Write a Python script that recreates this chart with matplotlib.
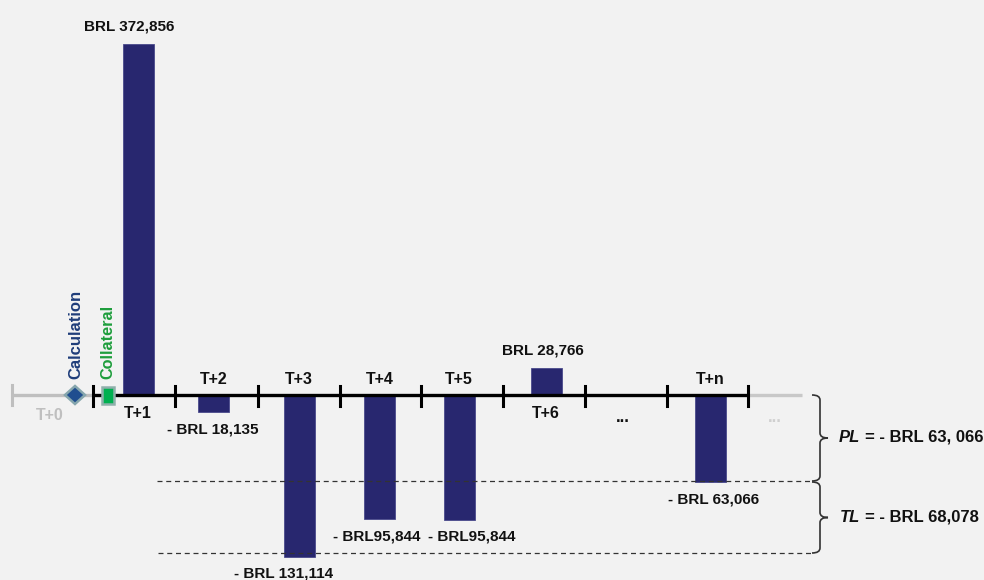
import matplotlib
matplotlib.use("Agg")
import matplotlib.pyplot as plt
from matplotlib.path import Path
from matplotlib.patches import PathPatch, Rectangle, Polygon

plt.rcParams['font.family'] = ['Liberation Sans', 'DejaVu Sans']
plt.rcParams['font.weight'] = 'bold'

# data
periods = ["T+1", "T+2", "T+3", "T+4", "T+5", "T+6", "T+n"]
slots = [0, 1, 2, 3, 4, 5, 7]          # which gap of the timeline each period sits in
value_labels = ["BRL 372,856", "- BRL 18,135", "- BRL 131,114", "- BRL95,844",
                "- BRL95,844", "BRL 28,766", "- BRL 63,066"]
# bar lengths as drawn (thousand BRL, the drawing is not to scale for the negatives)
drawn_k = [372.9, -18.1, -172.0, -131.7, -132.5, 29.0, -92.4]
pl_text = "= - BRL 63, 066"
tl_text = "= - BRL 68,078"

# layout (pixels)
ticks_px = [93, 175, 258, 340, 421, 503, 585, 667, 748]
bar_shift = [4, -3, 0, -1, -3, 2, 3]
base_px = 395
k_per_px = 1.062
label_dx = [-9, -1, -15, -3, 13, -3, 3]

navy = '#28276f'
bg = '#f2f2f2'

fig = plt.figure(figsize=(9.84, 5.8), dpi=100, facecolor=bg)
ax = fig.add_axes([0, 0, 1, 1])
ax.set_facecolor(bg)
ax.set_xlim(0, 984)
ax.set_ylim(-(580 - base_px) * k_per_px, base_px * k_per_px)
ax.axis('off')

ov = fig.add_axes([0, 0, 1, 1], zorder=3)
ov.set_xlim(0, 984)
ov.set_ylim(580, 0)
ov.patch.set_alpha(0)
ov.axis('off')

centers = [(ticks_px[s] + ticks_px[s + 1]) / 2 + d for s, d in zip(slots, bar_shift)]

ax.bar(centers, drawn_k, width=31, color=navy, edgecolor='#4a4a8c', linewidth=0.6, zorder=2)

for x, h, txt, dx in zip(centers, drawn_k, value_labels, label_dx):
    dy = 17 if h > 0 else -17
    ax.annotate(txt, (x, h), xytext=(dx, dy), textcoords='offset pixels',
                ha='center', va='center', fontsize=11, color='#111111')

# timeline
ov.plot([12, 93], [base_px, base_px], color='#bfbfbf', lw=2.4, solid_capstyle='butt', zorder=1)
ov.plot([12, 12], [385, 405], color='#bfbfbf', lw=2.2)
ov.plot([748, 802], [base_px, base_px], color='#c8c8c8', lw=2.4, solid_capstyle='butt')
ov.plot([ticks_px[0], ticks_px[-1]], [base_px, base_px], color='black', lw=2.4,
        solid_capstyle='butt', zorder=4)
for t in ticks_px:
    ov.plot([t, t], [386, 406], color='black', lw=2.2, zorder=4)

for x, h, p in zip(centers, drawn_k, periods):
    y = 414 if h > 0 else 380
    ov.text(x, y, p, ha='center', va='center', fontsize=11.5, color='#111111')

ov.text(50, 415, "T+0", ha='center', va='center', fontsize=11.5, color='#bfbfbf')
ov.text(623, 417, "...", ha='center', va='center', fontsize=12, color='#111111')
ov.text(775, 417, "...", ha='center', va='center', fontsize=12, color='#cfcfcf')

# calculation / collateral markers
ov.add_patch(Polygon([(65, 395), (75, 386), (85, 395), (75, 404)], closed=True,
                     facecolor='#1f4e8f', edgecolor='#86a6ad', lw=1.8, zorder=5))
ov.add_patch(Rectangle((102, 387), 12, 17, facecolor='#00b050', edgecolor='#8fb0ab',
                       lw=1.8, zorder=5))
ov.text(76, 379, "Calculation", rotation=90, ha='center', va='bottom',
        fontsize=12, color='#1f3d7a')
ov.text(108, 379, "Collateral", rotation=90, ha='center', va='bottom',
        fontsize=11.7, color='#1e9e3c')

# dashed reference lines
ov.plot([157, 812], [481, 481], color='#333333', lw=0.9, dashes=(4, 3))
ov.plot([158, 812], [553, 553], color='#333333', lw=0.9, dashes=(4, 3))


def brace(y0, y1, x0=812, w=16):
    xm = x0 + w / 2
    ym = (y0 + y1) / 2
    verts = [(x0, y0), (xm, y0), (xm, y0 + 5), (xm, ym - 5), (xm, ym), (x0 + w, ym),
             (xm, ym), (xm, ym + 5), (xm, y1 - 5), (xm, y1), (x0, y1)]
    codes = [Path.MOVETO, Path.CURVE3, Path.CURVE3, Path.LINETO, Path.CURVE3, Path.CURVE3,
             Path.CURVE3, Path.CURVE3, Path.LINETO, Path.CURVE3, Path.CURVE3]
    ov.add_patch(PathPatch(Path(verts, codes), facecolor='none', edgecolor='#333333', lw=1.2))


brace(395, 481)
brace(482, 553)

ov.text(839, 437, "PL", ha='left', va='center', fontsize=12, style='italic', color='#111111')
ov.text(865, 437, pl_text, ha='left', va='center', fontsize=12, color='#111111')
ov.text(840, 517, "TL", ha='left', va='center', fontsize=12, style='italic', color='#111111')
ov.text(865, 517, tl_text, ha='left', va='center', fontsize=12, color='#111111')

fig.savefig("out.png", dpi=100, facecolor=bg)
